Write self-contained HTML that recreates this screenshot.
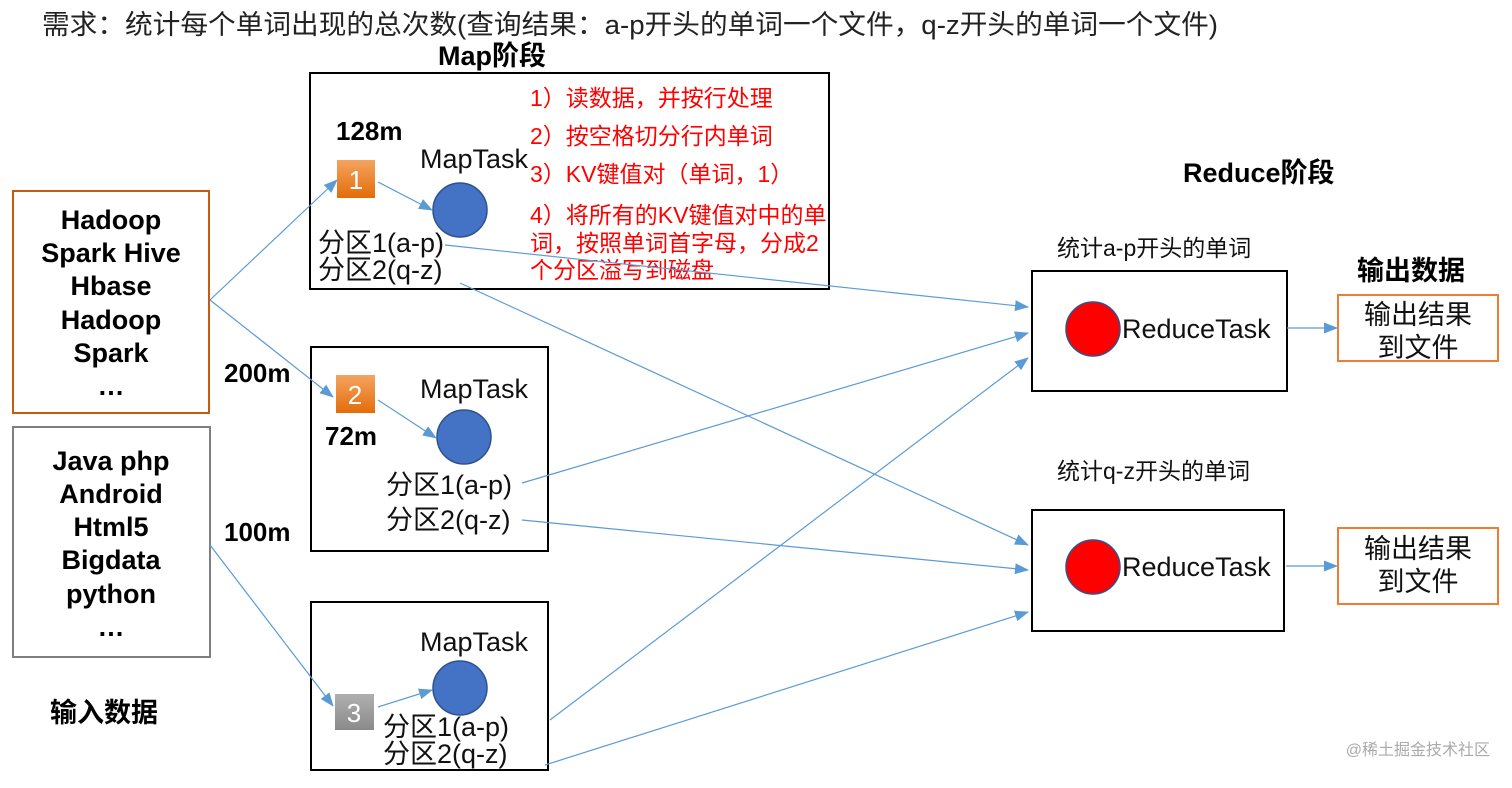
<!DOCTYPE html>
<html><head><meta charset="utf-8"><style>
html,body{margin:0;padding:0;background:#fff;}
svg text{font-family:"Liberation Sans","Noto Sans CJK SC",sans-serif;}
</style></head><body>
<svg width="1512" height="783" viewBox="0 0 1512 783" xmlns="http://www.w3.org/2000/svg">
<defs>
<marker id="a" markerWidth="14" markerHeight="11" refX="13" refY="5.5" orient="auto" markerUnits="userSpaceOnUse"><path d="M0,0 L14,5.5 L0,11 z" fill="#5b9bd5"/></marker>
<linearGradient id="og" x1="0" y1="0" x2="0" y2="1"><stop offset="0" stop-color="#f4a460"/><stop offset="1" stop-color="#e46c0a"/></linearGradient>
<linearGradient id="gg" x1="0" y1="0" x2="0" y2="1"><stop offset="0" stop-color="#b0b0b0"/><stop offset="1" stop-color="#8a8a8a"/></linearGradient>
</defs>
<text x="42" y="34" font-size="27" fill="#222" textLength="1176" lengthAdjust="spacingAndGlyphs">需求：统计每个单词出现的总次数(查询结果：a-p开头的单词一个文件，q-z开头的单词一个文件)</text>
<text x="438" y="65" font-size="27" font-weight="bold">Map阶段</text>
<text x="1183" y="182" font-size="27" font-weight="bold">Reduce阶段</text>
<text x="1357" y="280" font-size="27" font-weight="bold">输出数据</text>
<text x="50" y="722" font-size="27" font-weight="bold">输入数据</text>

<rect x="310" y="73" width="519" height="216" fill="none" stroke="#000" stroke-width="2"/>
<rect x="311" y="347" width="237" height="204" fill="none" stroke="#000" stroke-width="2"/>
<rect x="311" y="602" width="237" height="168" fill="none" stroke="#000" stroke-width="2"/>
<rect x="13" y="191" width="196" height="222" fill="none" stroke="#c55a11" stroke-width="2"/>
<rect x="13" y="427" width="197" height="230" fill="none" stroke="#7f7f7f" stroke-width="2"/>
<rect x="1032" y="271" width="255" height="120" fill="none" stroke="#000" stroke-width="2"/>
<rect x="1032" y="510" width="252" height="121" fill="none" stroke="#000" stroke-width="2"/>
<rect x="1338" y="295" width="160" height="66" fill="none" stroke="#ed7d31" stroke-width="2"/>
<rect x="1338" y="528" width="160" height="76" fill="none" stroke="#ed7d31" stroke-width="2"/>

<g font-size="27" font-weight="bold" text-anchor="middle">
<text x="111" y="229">Hadoop</text><text x="111" y="262">Spark Hive</text><text x="111" y="295">Hbase</text><text x="111" y="329">Hadoop</text><text x="111" y="362">Spark</text><text x="111" y="395">…</text>
<text x="111" y="470">Java php</text><text x="111" y="503">Android</text><text x="111" y="536">Html5</text><text x="111" y="569">Bigdata</text><text x="111" y="603">python</text><text x="111" y="636">…</text>
</g>
<g font-size="26" font-weight="bold">
<text x="336" y="140">128m</text><text x="224" y="382">200m</text><text x="325" y="445">72m</text><text x="224" y="541">100m</text>
</g>
<g font-size="23" fill="#f00">
<text x="530" y="106">1）读数据，并按行处理</text>
<text x="530" y="144">2）按空格切分行内单词</text>
<text x="530" y="182">3）KV键值对（单词，1）</text>
<text x="530" y="223">4）将所有的KV键值对中的单</text>
<text x="530" y="251">词，按照单词首字母，分成2</text>
<text x="530" y="278">个分区溢写到磁盘</text>
</g>
<g font-size="27" fill="#111">
<text x="420" y="168">MapTask</text><text x="420" y="398">MapTask</text><text x="420" y="651">MapTask</text>
<text x="318" y="252">分区1(a-p)</text><text x="318" y="279">分区2(q-z)</text>
<text x="386" y="494">分区1(a-p)</text><text x="386" y="529">分区2(q-z)</text>
<text x="383" y="736">分区1(a-p)</text><text x="383" y="763">分区2(q-z)</text>
<text x="1122" y="338">ReduceTask</text><text x="1122" y="576">ReduceTask</text>
<text x="1418" y="324" text-anchor="middle">输出结果</text><text x="1418" y="357" text-anchor="middle">到文件</text>
<text x="1418" y="558" text-anchor="middle">输出结果</text><text x="1418" y="591" text-anchor="middle">到文件</text>
</g>
<g font-size="23" fill="#111">
<text x="1057" y="256">统计a-p开头的单词</text><text x="1057" y="479">统计q-z开头的单词</text>
</g>

<rect x="337" y="160" width="38" height="38" fill="url(#og)"/><text x="356" y="189" font-size="26" fill="#fff" text-anchor="middle">1</text>
<rect x="336" y="375" width="39" height="38" fill="url(#og)"/><text x="355" y="404" font-size="26" fill="#fff" text-anchor="middle">2</text>
<rect x="335" y="694" width="39" height="36" fill="url(#gg)"/><text x="354" y="722" font-size="26" fill="#fff" text-anchor="middle">3</text>

<g fill="#4472c4" stroke="#2f528f" stroke-width="1.5">
<circle cx="460" cy="210" r="27"/><circle cx="464" cy="437" r="27"/><circle cx="460" cy="688" r="27"/>
</g>
<g fill="#ff0000" stroke="#2f528f" stroke-width="1.5">
<circle cx="1093" cy="329" r="27"/><circle cx="1093" cy="567" r="27"/>
</g>

<g stroke="#5b9bd5" stroke-width="1.2" fill="none" marker-end="url(#a)">
<line x1="210" y1="300" x2="337" y2="180"/>
<line x1="210" y1="300" x2="333" y2="397"/>
<line x1="210" y1="545" x2="333" y2="706"/>
<line x1="378" y1="182" x2="432" y2="210"/>
<line x1="378" y1="400" x2="436" y2="438"/>
<line x1="378" y1="707" x2="432" y2="690"/>
<line x1="445" y1="245" x2="1028" y2="307"/>
<line x1="460" y1="283" x2="1028" y2="545"/>
<line x1="522" y1="483" x2="1028" y2="333"/>
<line x1="522" y1="520" x2="1028" y2="570"/>
<line x1="550" y1="720" x2="1028" y2="358"/>
<line x1="545" y1="765" x2="1028" y2="612"/>
<line x1="1287" y1="328" x2="1337" y2="328"/>
<line x1="1286" y1="566" x2="1337" y2="566"/>
</g>
<text x="1490" y="755" font-size="16" fill="#aaa" text-anchor="end">@稀土掘金技术社区</text>
</svg>
</body></html>
